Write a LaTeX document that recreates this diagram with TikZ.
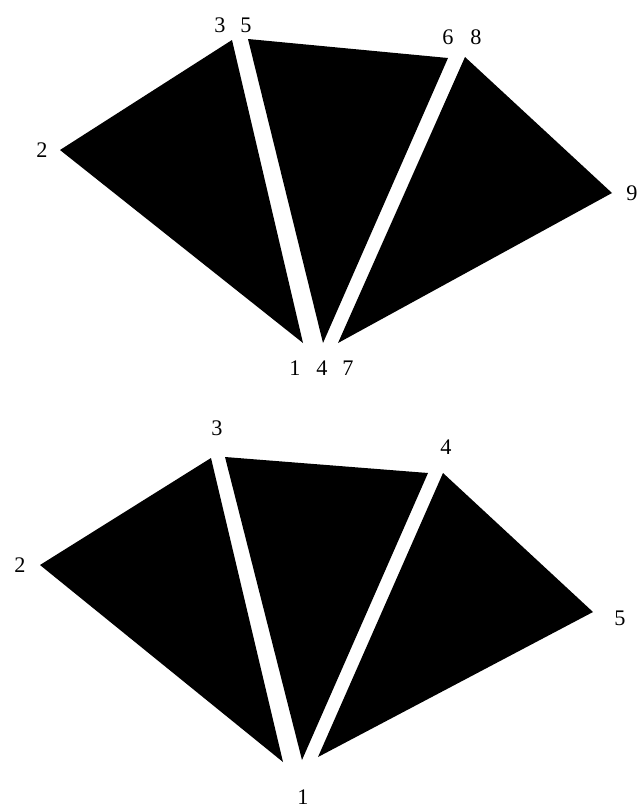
\documentclass[tikz,border=0pt]{standalone}
\usepackage{fontspec}
\setmainfont{Liberation Serif}
\begin{document}
\begin{tikzpicture}[x=0.03cm,y=-0.03cm]
    \useasboundingbox (0,0) rectangle (637,808);
    \tikzset{vlabel/.style={font=\fontsize{19}{21}\selectfont, inner sep=0pt}}
    % upper fan, nine corners
    \foreach \n/\x/\y in {1/303/343,2/60/150,3/232/40,4/323/343,5/248/39,6/448/58,7/338/343,8/465/57,9/612/193}{
      \coordinate (t\n) at (\x,\y);
    }
    \foreach \a/\b/\c in {1/2/3,4/5/6,7/8/9}{
      \fill[black] (t\a) -- (t\b) -- (t\c) -- cycle;
    }
    \foreach \n/\x/\y in {1/295/368,4/322/368,7/348/368,2/42/150,3/220/25,5/246/25,6/448/37,8/476/37,9/632/193}{
      \node[vlabel] (lt\n) at (\x,\y) {\n};
    }
    % lower fan, shared corners
    \foreach \n/\x/\y in {l1/283/762,l2/40/565,l3/211/458,m1/302/760,m3/225/457,m4/428/473,r1/318/757,r4/443/473,r5/593/612}{
      \coordinate (b\n) at (\x,\y);
    }
    \fill[black] (bl1) -- (bl2) -- (bl3) -- cycle;
    \fill[black] (bm1) -- (bm3) -- (bm4) -- cycle;
    \fill[black] (br1) -- (br4) -- (br5) -- cycle;
    \foreach \n/\x/\y in {1/303/797,2/20/565,3/217/428,4/446/447,5/620/618}{
      \node[vlabel] (lb\n) at (\x,\y) {\n};
    }
\end{tikzpicture}
\end{document}
